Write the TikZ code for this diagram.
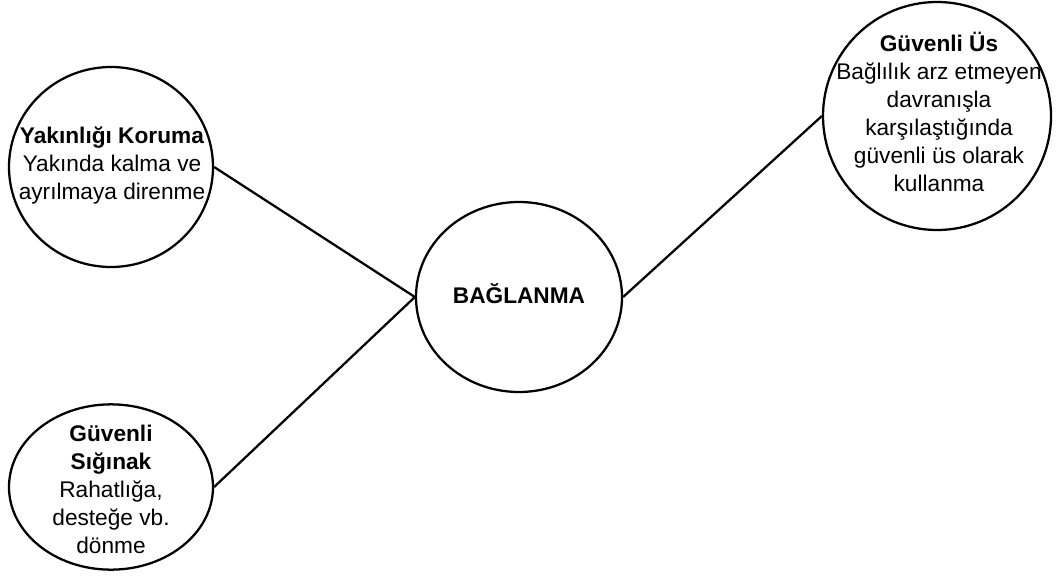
\documentclass[tikz,border=0pt]{standalone}
\usepackage{fontspec}
\setmainfont{Liberation Sans}
\usetikzlibrary{shapes.geometric}

\begin{document}
\begin{tikzpicture}[x=0.75pt,y=-0.75pt,
  bubble/.style={draw,ellipse,line width=1.7pt,inner sep=0pt},
  txt/.style={align=center,inner sep=0pt,font=\fontsize{17}{21}\selectfont}]
\fill[white] (0,0) rectangle (1059,585);
\useasboundingbox (0,0) rectangle (1059,585);
% the four bubbles
\node[bubble,minimum width=153pt,minimum height=150pt] (kor) at (111,167) {};
\node[bubble,minimum width=153pt,minimum height=124pt] (sig) at (111,487) {};
\node[bubble,minimum width=154.5pt,minimum height=142.5pt] (bag) at (519,297) {};
\node[bubble,minimum width=171pt,minimum height=171pt] (us) at (937,116) {};
% texts
\node[txt] (kort) at (112,166) {\textbf{Yakınlığı Koruma}\\ Yakında kalma ve\\ayrılmaya direnme};
\node[txt] (sigt) at (111,489) {\textbf{Güvenli}\\\textbf{Sığınak}\\Rahatlığa,\\desteğe vb.\\dönme};
\node[txt] (bagt) at (519,294) {\textbf{BAĞLANMA}};
\node[txt] (ust) at (939,112) {\textbf{Güvenli Üs}\\Bağlılık arz etmeyen\\davranışla\\karşılaştığında\\güvenli üs olarak\\kullanma};
% connectors
\draw[line width=1.7pt] (kor.east)--(bag.west); \draw[line width=1.7pt] (sig.east)--(bag.west); \draw[line width=1.7pt] (bag.east)--(us.west);
\end{tikzpicture}
\end{document}
